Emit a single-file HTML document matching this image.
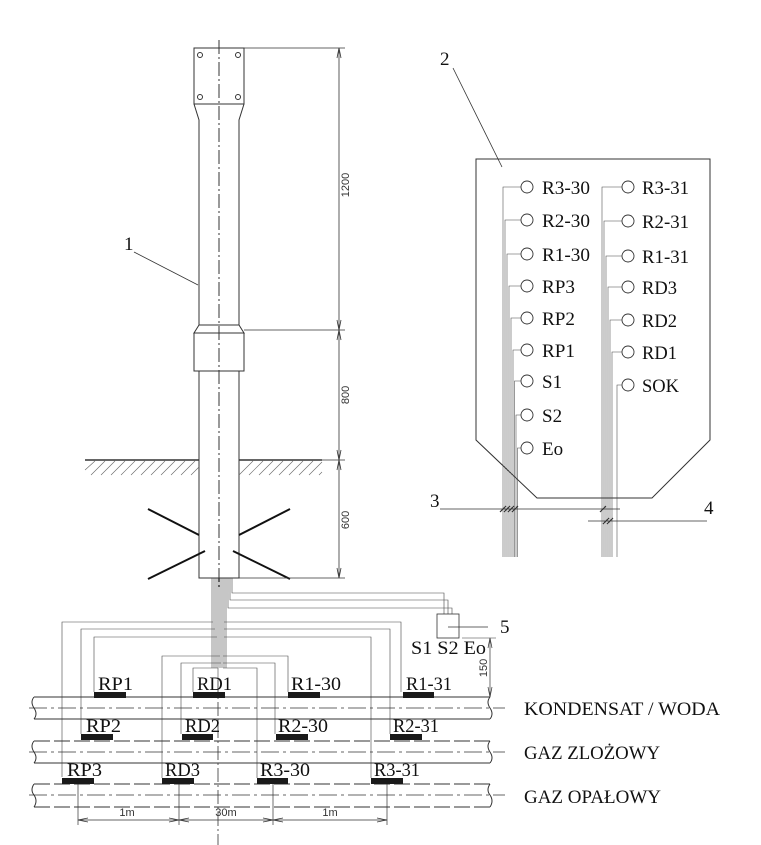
<!DOCTYPE html>
<html><head><meta charset="utf-8"><style>
html,body{margin:0;padding:0;background:#fff;}
svg{display:block;}
.t{font-family:"Liberation Serif",serif;fill:#111;}
.s{font-family:"Liberation Sans",sans-serif;fill:#333;font-size:11px;}
</style></head><body>
<svg width="761" height="845" viewBox="0 0 761 845" xmlns="http://www.w3.org/2000/svg">
<g fill="none" stroke="#333" stroke-width="1">
<rect x="194" y="48" width="50" height="56"/>
<circle cx="200" cy="55" r="2.5"/><circle cx="238" cy="55" r="2.5"/>
<circle cx="200" cy="97" r="2.5"/><circle cx="238" cy="97" r="2.5"/>
<path d="M194 104 L199 120 L199 325 M244 104 L239 120 L239 325"/>
<path d="M199 325 L194 333 L244 333 L239 325 Z"/>
<rect x="194" y="333" width="50" height="38"/>
<path d="M199 371 V578 H239 V371"/>
<line x1="219" y1="40" x2="219" y2="590" stroke-dasharray="14,3,2,3"/>
<line x1="85" y1="460" x2="199" y2="460" stroke-width="1.6"/>
<line x1="239" y1="460" x2="322" y2="460" stroke-width="1.6"/>
<g stroke-width="0.6" stroke="#666">
<path d="M85 470 L95 461 M91 475 L105 461 M101 475 L115 461 M111 475 L125 461 M121 475 L135 461 M131 475 L145 461 M141 475 L155 461 M151 475 L165 461 M161 475 L175 461 M171 475 L185 461 M181 475 L195 461 M191 475 L199 467"/>
<path d="M239 475 L253 461 M249 475 L263 461 M259 475 L273 461 M269 475 L283 461 M279 475 L293 461 M289 475 L303 461 M299 475 L313 461 M309 475 L322 462 M319 475 L322 472"/>
</g>
<g stroke="#111" stroke-width="2">
<line x1="148" y1="509" x2="199" y2="535"/>
<line x1="239" y1="535" x2="290" y2="509"/>
<line x1="148" y1="579" x2="205" y2="551"/>
<line x1="233" y1="551" x2="290" y2="579"/>
</g>
<line x1="339" y1="48" x2="339" y2="578" stroke-width="0.8"/>
<line x1="244" y1="48" x2="345" y2="48" stroke-width="0.7"/>
<line x1="244" y1="330" x2="345" y2="330" stroke-width="0.7"/>
<line x1="322" y1="460" x2="345" y2="460" stroke-width="0.7"/>
<line x1="239" y1="578" x2="345" y2="578" stroke-width="0.7"/>
<path d="M337 320 L339 330 L341 320 M337 340 L339 330 L341 340 M337 450 L339 460 L341 450 M337 470 L339 460 L341 470 M337 58 L339 48 L341 58 M337 568 L339 578 L341 568" stroke-width="0.8"/>
<line x1="134" y1="252" x2="198" y2="285" stroke-width="0.8"/>
<g stroke="#444" stroke-width="0.6">
<path d="M212 578 V668 M214 578 V668 M216 578 V668 M218 578 V680 M220 578 V668 M222 578 V668 M224 578 V668 M226 578 V668"/>
<path d="M228 578 V608 H452 V614 M230 578 V600 H448 V614 M232 578 V593 H444 V614"/>
<path d="M213 622 H62 V777 M215 629 H81 V734 M217 637 H94 V692 M220 656 H162 V778 M221 663 H181 V734 M218 668 H193 V692"/>
<path d="M224 622 H401 V692 M224 629 H390 V734 M224 637 H371 V778 M223 656 H288 V692 M223 663 H275 V734 M223 668 H257 V778"/>
</g>
<rect x="437" y="614" width="22" height="24" stroke-width="0.8"/>
<line x1="448" y1="627" x2="488" y2="627" stroke-width="0.8"/>
<line x1="490" y1="638" x2="490" y2="697" stroke-width="0.7"/>
<line x1="462" y1="638" x2="496" y2="638" stroke-width="0.6"/>
<path d="M488 648 L490 638 L492 648 M488 687 L490 697 L492 687" stroke-width="0.7"/>
<path d="M34 697 H490 M34 719 H490" />
<path d="M34 697 Q30 702 34 708 Q38 714 34 719 M490 697 Q486 702 490 708 Q494 714 490 719"/>
<line x1="29" y1="708" x2="505" y2="708" stroke-dasharray="18,4,3,4" stroke-width="0.8"/>
<path d="M34 741 H490" stroke-dasharray="16,4"/><path d="M34 763 H490"/>
<path d="M34 741 Q30 746 34 752 Q38 758 34 763 M490 741 Q486 746 490 752 Q494 758 490 763"/>
<line x1="29" y1="752" x2="505" y2="752" stroke-dasharray="18,4,3,4" stroke-width="0.8"/>
<path d="M34 784 H490 M34 807 H490" stroke-dasharray="16,4"/>
<path d="M34 784 Q30 790 34 795 Q38 801 34 807 M490 784 Q486 790 490 795 Q494 801 490 807"/>
<line x1="29" y1="795" x2="505" y2="795" stroke-dasharray="18,4,3,4" stroke-width="0.8"/>
<line x1="218" y1="680" x2="218" y2="845" stroke-dasharray="14,3,2,3" stroke-width="0.8"/>
<path d="M78 783 V825 M179 783 V825 M273 783 V825 M387 783 V825" stroke-width="0.7"/>
<line x1="78" y1="820" x2="387" y2="820" stroke-width="0.7"/>
<path d="M88 818 L78 820 L88 822 M169 818 L179 820 L169 822 M189 818 L179 820 L189 822 M263 818 L273 820 L263 822 M283 818 L273 820 L283 822 M377 818 L387 820 L377 822" stroke-width="0.7"/>
<path d="M476 159 H710 V440 L652 498 H537 L476 440 Z"/>
<line x1="453" y1="68" x2="502" y2="167" stroke-width="0.8"/>
<g stroke-width="0.9">
<circle cx="527" cy="187" r="6"/><circle cx="527" cy="220" r="6"/><circle cx="527" cy="254" r="6"/>
<circle cx="527" cy="286" r="6"/><circle cx="527" cy="318" r="6"/><circle cx="527" cy="350" r="6"/>
<circle cx="527" cy="381" r="6"/><circle cx="527" cy="415" r="6"/><circle cx="527" cy="448" r="6"/>
<circle cx="628" cy="187" r="6"/><circle cx="628" cy="221" r="6"/><circle cx="628" cy="256" r="6"/>
<circle cx="628" cy="287" r="6"/><circle cx="628" cy="320" r="6"/><circle cx="628" cy="352" r="6"/>
<circle cx="628" cy="385" r="6"/>
</g>
<g stroke="#444" stroke-width="0.55">
<path d="M521 187 H503 V557 M521 220 H505 V557 M521 254 H507 V557 M521 286 H509 V557 M521 318 H511 V557 M521 350 H513 V557 M521 381 H514.5 V557 M521 415 H516 V557 M521 448 H517.5 V557"/>
<path d="M622 187 H602 V557 M622 221 H604 V557 M622 256 H606 V557 M622 287 H608 V557 M622 320 H610 V557 M622 352 H612 V557 M622 385 H617 V557"/>
</g>
<line x1="440" y1="509" x2="620" y2="509" stroke-width="0.8"/>
<line x1="588" y1="521" x2="707" y2="521" stroke-width="0.8"/>
<path d="M500 512 L506 506 M504 512 L510 506 M508 512 L514 506 M512 512 L518 506 M600 512 L606 506 M603 524 L609 518 M607 524 L613 518" stroke-width="1.2"/>
</g>
<g fill="#1a1a1a">
<rect x="94" y="692" width="32" height="6"/><rect x="193" y="692" width="32" height="6"/>
<rect x="288" y="692" width="32" height="6"/><rect x="403" y="692" width="31" height="6"/>
<rect x="81" y="734" width="32" height="6"/><rect x="182" y="734" width="31" height="6"/>
<rect x="276" y="734" width="32" height="6"/><rect x="390" y="734" width="32" height="6"/>
<rect x="62" y="778" width="32" height="6"/><rect x="162" y="778" width="32" height="6"/>
<rect x="257" y="778" width="31" height="6"/><rect x="371" y="778" width="32" height="6"/>
</g>
<g class="t" font-size="19">
<text x="124" y="250">1</text>
<text x="440" y="65">2</text>
<text x="430" y="507">3</text>
<text x="704" y="514">4</text>
<text x="500" y="633">5</text>
<text x="411" y="654" textLength="75" lengthAdjust="spacingAndGlyphs">S1 S2 Eo</text>
<text x="98" y="690" textLength="35" lengthAdjust="spacingAndGlyphs">RP1</text><text x="197" y="690" textLength="35" lengthAdjust="spacingAndGlyphs">RD1</text><text x="291" y="690" textLength="50" lengthAdjust="spacingAndGlyphs">R1-30</text><text x="406" y="690" textLength="46" lengthAdjust="spacingAndGlyphs">R1-31</text>
<text x="86" y="732" textLength="35" lengthAdjust="spacingAndGlyphs">RP2</text><text x="185" y="732" textLength="35" lengthAdjust="spacingAndGlyphs">RD2</text><text x="278" y="732" textLength="50" lengthAdjust="spacingAndGlyphs">R2-30</text><text x="393" y="732" textLength="46" lengthAdjust="spacingAndGlyphs">R2-31</text>
<text x="67" y="776" textLength="35" lengthAdjust="spacingAndGlyphs">RP3</text><text x="165" y="776" textLength="35" lengthAdjust="spacingAndGlyphs">RD3</text><text x="260" y="776" textLength="50" lengthAdjust="spacingAndGlyphs">R3-30</text><text x="374" y="776" textLength="46" lengthAdjust="spacingAndGlyphs">R3-31</text>
<text x="524" y="715" textLength="196" lengthAdjust="spacingAndGlyphs">KONDENSAT / WODA</text>
<text x="524" y="759" textLength="136" lengthAdjust="spacingAndGlyphs">GAZ ZLOŻOWY</text>
<text x="524" y="803" textLength="137" lengthAdjust="spacingAndGlyphs">GAZ OPAŁOWY</text>
<text x="542" y="194" textLength="48" lengthAdjust="spacingAndGlyphs">R3-30</text><text x="542" y="227" textLength="48" lengthAdjust="spacingAndGlyphs">R2-30</text><text x="542" y="261" textLength="48" lengthAdjust="spacingAndGlyphs">R1-30</text>
<text x="542" y="293" textLength="33" lengthAdjust="spacingAndGlyphs">RP3</text><text x="542" y="325" textLength="33" lengthAdjust="spacingAndGlyphs">RP2</text><text x="542" y="357" textLength="33" lengthAdjust="spacingAndGlyphs">RP1</text>
<text x="542" y="388">S1</text><text x="542" y="422">S2</text><text x="542" y="455">Eo</text>
<text x="642" y="194" textLength="47" lengthAdjust="spacingAndGlyphs">R3-31</text><text x="642" y="228" textLength="47" lengthAdjust="spacingAndGlyphs">R2-31</text><text x="642" y="263" textLength="47" lengthAdjust="spacingAndGlyphs">R1-31</text>
<text x="642" y="294" textLength="35" lengthAdjust="spacingAndGlyphs">RD3</text><text x="642" y="327" textLength="35" lengthAdjust="spacingAndGlyphs">RD2</text><text x="642" y="359" textLength="35" lengthAdjust="spacingAndGlyphs">RD1</text>
<text x="642" y="392" textLength="37" lengthAdjust="spacingAndGlyphs">SOK</text>
</g>
<g class="s">
<text transform="translate(349,185) rotate(-90)" text-anchor="middle">1200</text>
<text transform="translate(349,395) rotate(-90)" text-anchor="middle">800</text>
<text transform="translate(349,520) rotate(-90)" text-anchor="middle">600</text>
<text transform="translate(487,668) rotate(-90)" text-anchor="middle">150</text>
<text x="127" y="816" text-anchor="middle">1m</text>
<text x="226" y="816" text-anchor="middle">30m</text>
<text x="330" y="816" text-anchor="middle">1m</text>
</g>
</svg>
</body></html>
